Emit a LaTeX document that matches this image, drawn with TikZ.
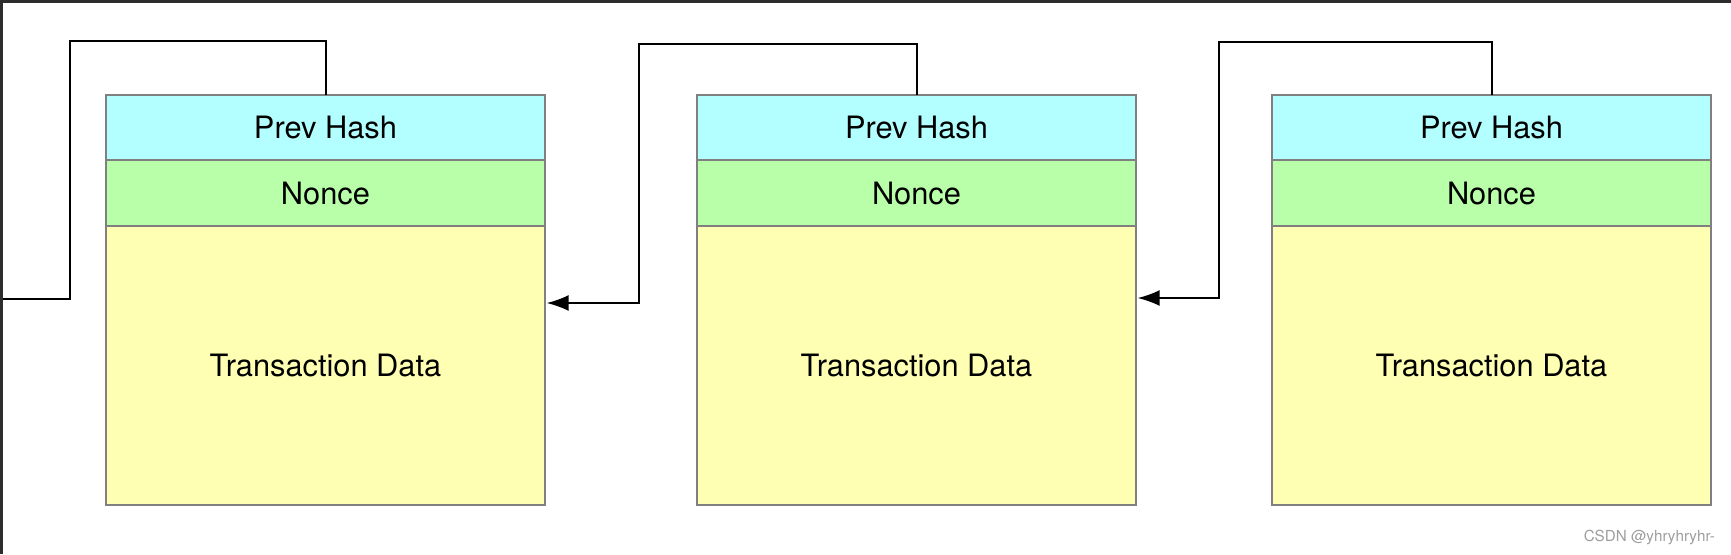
\documentclass[tikz,border=0pt]{standalone}
\usepackage{fontspec}
\setmainfont{TeX Gyre Heros}
\usetikzlibrary{positioning,arrows.meta}

\definecolor{hashcol}{RGB}{179,255,255}
\definecolor{noncecol}{RGB}{185,255,170}
\definecolor{datacol}{RGB}{255,255,179}
\definecolor{boxgray}{RGB}{128,128,128}
\definecolor{framecol}{RGB}{45,45,45}

\begin{document}
\begin{tikzpicture}[x=0.5pt,y=-0.5pt,
    field/.style={draw=boxgray,line width=1pt,minimum width=219.5pt,inner sep=0pt,outer sep=0pt,font=\fontsize{15.4}{18}\selectfont},
    hashbox/.style={field,fill=hashcol,minimum height=32.5pt},
    noncebox/.style={field,fill=noncecol,minimum height=33pt},
    databox/.style={field,fill=datacol,minimum height=139.5pt},
    link/.style={line width=1pt,black},
    >={Latex[length=11pt,width=8pt]}]
        \useasboundingbox (0,0) rectangle (1731,554);
        \fill[white] (0,0) rectangle (1731,554);

        % blocks
        \node[hashbox,anchor=north west] (hash1) at (106,95) {Prev Hash};
        \node[noncebox] (nonce1) [below=0pt of hash1] {Nonce};
        \node[databox] (data1) [below=0pt of nonce1] {Transaction Data};

        \node[hashbox] (hash2) [right=76pt of hash1] {Prev Hash};
        \node[noncebox] (nonce2) [below=0pt of hash2] {Nonce};
        \node[databox] (data2) [below=0pt of nonce2] {Transaction Data};

        \node[hashbox] (hash3) [right=68pt of hash2] {Prev Hash};
        \node[noncebox] (nonce3) [below=0pt of hash3] {Nonce};
        \node[databox] (data3) [below=0pt of nonce3] {Transaction Data};

        % links back to the previous block
        \coordinate (up1) at (70,41);
        \coordinate (down1) at (70,299);
        \coordinate (out1) at (0,299);
        \coordinate (up2) at (639,44);
        \coordinate (down2) at (639,303);
        \coordinate (up3) at (1219,42);
        \coordinate (down3) at (1219,298);

        \draw[link] (hash1.north) |- (up1) -- (down1) -- (out1);
        \draw[link,->] (hash2.north) |- (up2) -- (down2) -- ([xshift=0.8pt]down2 -| data1.east);
        \draw[link,->] (hash3.north) |- (up3) -- (down3) -- ([xshift=0.8pt]down3 -| data2.east);

        \node[anchor=east,text=black!38,font=\fontsize{7.6}{9}\selectfont] (watermark) at (1722,537) {CSDN @yhryhryhr-};

        % dark frame edges
        \fill[framecol] (0,0) rectangle (1731,3);
        \fill[framecol] (0,0) rectangle (3,554);
    \end{tikzpicture}
\end{document}
